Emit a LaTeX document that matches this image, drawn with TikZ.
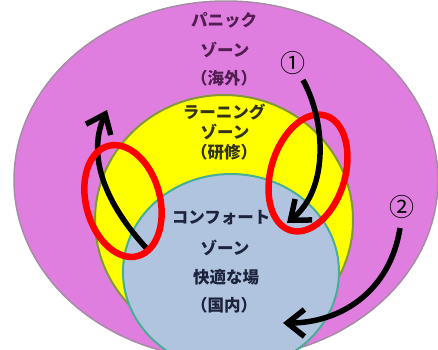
\documentclass[tikz,border=0pt]{standalone}
\usepackage{fontspec}
\newfontfamily\jp{Noto Sans CJK JP}
\usetikzlibrary{arrows.meta,shapes.geometric}
\definecolor{pinkz}{RGB}{224,126,224}
\definecolor{pinkedge}{RGB}{165,140,165}
\definecolor{yellowz}{RGB}{255,255,0}
\definecolor{yellowedge}{RGB}{130,150,60}
\definecolor{bluez}{RGB}{176,196,224}
\definecolor{blueedge}{RGB}{70,175,150}
\definecolor{txtpink}{RGB}{80,30,80}
\definecolor{txtyellow}{RGB}{50,50,25}
\definecolor{txtblue}{RGB}{30,35,60}
\tikzset{
  zone/.style={ellipse, inner sep=0pt, outer sep=0pt},
  ring/.style={ellipse, draw=red, line width=6.5pt, inner sep=0pt, outer sep=0pt},
  lbl/.style={font=\jp\bfseries\fontsize{16.5}{16.5}\selectfont, inner sep=0pt, anchor=center},
  move/.style={draw=black, line width=5.5pt, -{Straight Barb[length=17pt,width=27pt]}},
  num/.style={font=\jp\fontsize{25}{25}\selectfont, inner sep=0pt, anchor=center}
}
\begin{document}
\begin{tikzpicture}[x=1pt,y=-1pt]
\useasboundingbox (0,0) rectangle (438,349);
\clip (0,0) rectangle (438,349);
% zones
\node[zone, fill=pinkz, draw=pinkedge, line width=1.5pt, minimum width=424pt, minimum height=358pt] (panic) at (226,180) {};
\node[zone, fill=yellowz, draw=yellowedge, line width=2pt, minimum width=258pt, minimum height=250pt] (learn) at (224,220) {};
\node[zone, fill=bluez, draw=blueedge, line width=2pt, minimum width=216pt, minimum height=196pt] (comfort) at (231,272) {};
% texts
\node[lbl, text=txtpink] (p1) at (224,20) {パニック};
\node[lbl, text=txtpink] (p2) at (225,50) {ゾーン};
\node[lbl, text=txtpink] (p3) at (224,78) {（海外）};
\node[lbl, text=txtyellow] (l1) at (224,112) {ラーニング};
\node[lbl, text=txtyellow] (l2) at (225,132) {ゾーン};
\node[lbl, text=txtyellow] (l3) at (224,152) {（研修）};
\node[lbl, text=txtblue] (c1) at (221,218) {コンフォート};
\node[lbl, text=txtblue] (c2) at (225,248) {ゾーン};
\node[lbl, text=txtblue] (c3) at (226,277) {快適な場};
\node[lbl, text=txtblue] (c4) at (224,305) {（国内）};
% left arrow (under ring)
\coordinate (la) at (150,252);
\coordinate (lb) at (107,110);
\draw[move] (la) .. controls (110,210) and (85,160) .. (lb);
% red rings
\node[ring, minimum width=74pt, minimum height=114pt, rotate=15] (ringL) at (123,201) {};
\node[ring, minimum width=74pt, minimum height=120pt, rotate=-17] (ringR) at (308,173) {};
% arrows 1 and 2
\coordinate (a1s) at (303,80);
\coordinate (a1e) at (287,223);
\draw[move] (a1s) .. controls (325,120) and (330,188) .. (a1e);
\coordinate (a2s) at (400,228);
\coordinate (a2e) at (283,323);
\draw[move] (a2s) .. controls (390,292) and (340,323) .. (a2e);
% numbers
\node[num] (n1) at (293,63) {①};
\node[num] (n2) at (402,207) {②};
\end{tikzpicture}
\end{document}
